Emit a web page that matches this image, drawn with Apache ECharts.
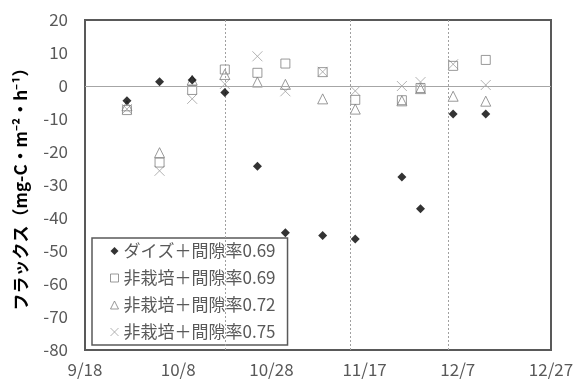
<!DOCTYPE html>
<html>
<head>
<meta charset="utf-8">
<script src="https://cdn.jsdelivr.net/npm/echarts@6/dist/echarts.min.js"></script>
<style>html,body{margin:0;padding:0;background:#fff;}#c{width:576px;height:380px;}</style>
</head>
<body>
<div id="c"></div>
<script>
// ---- data ----
const dates = ['9/27','10/4','10/11','10/18','10/25','10/31','11/8','11/15','11/25','11/29','12/6','12/13'];
const seriesNames = ['ダイズ＋間隙率0.69','非栽培＋間隙率0.69','非栽培＋間隙率0.72','非栽培＋間隙率0.75'];
const soy069   = [-4.5, 1.3, 1.8, -2.0, -24.3, -44.5, -45.3, -46.4, -27.6, -37.2, -8.5, -8.5];
const bare069  = [-7.3, -23.2, -1.2, 5.0, 4.0, 6.8, 4.2, -4.2, -4.3, -0.6, 6.1, 7.9];
const bare072  = [-6.0, -20.2, 1.8, 3.5, 1.2, 0.5, -3.9, -7.0, -4.5, -0.8, -3.1, -4.6];
const bare075  = [-7.0, -25.7, -3.9, 0.6, 9.0, -1.6, 4.3, -1.5, 0.0, 1.2, 6.6, 0.3];
const xTickLabels = ['9/18','10/8','10/28','11/17','12/7','12/27'];
const eventDates = ['10/18','11/14','12/5'];
const startDate = '9/18';

function dayOf(s){
  const p = s.split('/').map(Number);
  const q = startDate.split('/').map(Number);
  return Math.round((Date.UTC(2019,p[0]-1,p[1]) - Date.UTC(2019,q[0]-1,q[1]))/86400000);
}
const xs = dates.map(dayOf);
function pts(vals){ return vals.map((v,i)=>[xs[i], v]); }

const font = '"Noto Sans CJK JP", "Noto Sans", sans-serif';
const chart = echarts.init(document.getElementById('c'), null, {renderer:'canvas'});
const openStyle = (c)=>({color:'none', borderColor:c, borderWidth:1});
const xPath = 'path://M0,0L10,10M10,0L0,10';
chart.setOption({
  animation:false,
  backgroundColor:'#fff',
  textStyle:{fontFamily:font},
  grid:{left:85, right:25, top:20, bottom:30, show:true, borderColor:'#595959', borderWidth:2, containLabel:false, outerBoundsMode:'none'},
  legend:{
    orient:'vertical', left:92, top:238,
    data:[
      {name:seriesNames[0], icon:'diamond', itemStyle:{color:'#000', borderWidth:0}},
      {name:seriesNames[1], icon:'rect', itemStyle:openStyle('#7f7f7f')},
      {name:seriesNames[2], icon:'triangle', itemStyle:openStyle('#7f7f7f')},
      {name:seriesNames[3], icon:xPath, itemStyle:openStyle('#a0a0a0')}
    ],
    backgroundColor:'#fff', borderColor:'#595959', borderWidth:1.5,
    padding:[3,12,3,16], itemGap:7, itemWidth:8, itemHeight:8,
    textStyle:{fontSize:17, color:'#595959', lineHeight:20, fontFamily:font}
  },
  xAxis:{
    type:'value', min:0, max:100, interval:20,
    axisLine:{show:false}, axisTick:{show:false}, splitLine:{show:false},
    axisLabel:{fontSize:17, color:'#595959', margin:11, formatter:(v)=>xTickLabels[Math.round(v/20)]}
  },
  yAxis:{
    type:'value', min:-80, max:20, interval:10,
    axisLine:{show:false}, axisTick:{show:false}, splitLine:{show:false},
    axisLabel:{fontSize:17, color:'#595959', margin:17, formatter:(v)=>String(v)},
    name:'フラックス（mg-C・m⁻²・h⁻¹）', nameLocation:'middle', nameGap:56,
    nameTextStyle:{fontSize:17, fontWeight:'bold', color:'#000', fontFamily:font}
  },
  series:[
    {name:seriesNames[0], type:'scatter', data:pts(soy069), symbol:'diamond', symbolSize:9,
     itemStyle:{color:'#000'}, z:5,
     markLine:{silent:true, symbol:'none', label:{show:false},
       data:[
         {yAxis:0, lineStyle:{color:'#a6a6a6', width:1, type:'solid'}},
         ...eventDates.map(d=>({xAxis:dayOf(d), lineStyle:{color:'#a0a0a0', width:1, type:[2,2]}}))
       ]}},
    {name:seriesNames[1], type:'scatter', data:pts(bare069), symbol:'rect', symbolSize:9,
     itemStyle:openStyle('#7f7f7f'), z:4},
    {name:seriesNames[2], type:'scatter', data:pts(bare072), symbol:'triangle', symbolSize:10,
     itemStyle:openStyle('#7f7f7f'), z:3},
    {name:seriesNames[3], type:'scatter', data:pts(bare075), symbol:xPath, symbolSize:10,
     itemStyle:openStyle('#a0a0a0'), z:2}
  ]
});
</script>
</body>
</html>
